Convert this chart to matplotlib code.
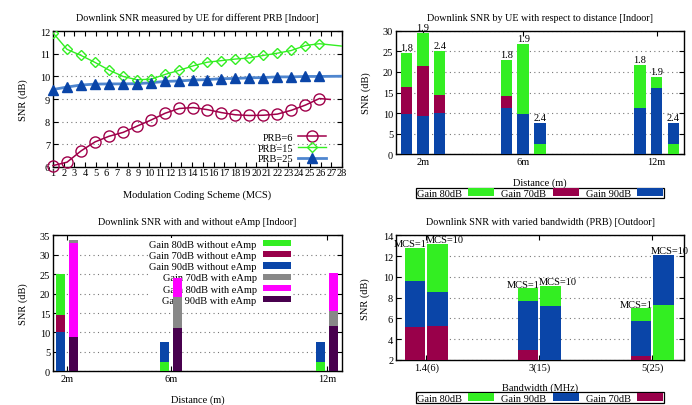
import matplotlib
matplotlib.use('Agg')
import matplotlib.pyplot as plt
from matplotlib.lines import Line2D

plt.rcParams['font.family'] = ['Liberation Serif', 'DejaVu Serif']
plt.rcParams['font.size'] = 7.5
plt.rcParams['axes.titlesize'] = 7.3

# colours (gnuplot-ish)
GREEN = '#33ee22'
CRIMSON = '#99004a'
BLUE = '#0a45a8'
GRAY = '#888888'
MAGENTA = '#ff00ff'
PURPLE = '#48004e'

# --- top left: SNR vs MCS for 3 PRB settings ---
mcs_x = [1.0, 2.31, 3.62, 4.93, 6.24, 7.55, 8.86, 10.17, 11.48, 12.79,
         14.1, 15.41, 16.72, 18.03, 19.34, 20.65, 21.96, 23.27, 24.58, 25.89]
prb6 = [6.05, 6.2, 6.7, 7.1, 7.35, 7.52, 7.8, 8.07, 8.37, 8.58,
        8.62, 8.53, 8.4, 8.3, 8.27, 8.28, 8.33, 8.5, 8.73, 9.02]
prb15 = [11.93, 11.2, 10.93, 10.62, 10.28, 10.0, 9.85, 9.88, 10.09, 10.27,
         10.47, 10.63, 10.7, 10.77, 10.82, 10.93, 11.03, 11.15, 11.37, 11.45]
prb25 = [9.42, 9.53, 9.62, 9.66, 9.67, 9.67, 9.68, 9.72, 9.78, 9.8,
         9.84, 9.86, 9.9, 9.91, 9.94, 9.95, 9.98, 9.98, 10.0, 10.0]
# last (unmarked) points of each line
prb6_end = (26.9, 8.98)
prb15_end = (28.3, 11.33)
prb25_end = (28.3, 10.01)

# --- top right: SNR vs distance ---
dist_labels = ['2m', '6m', '12m']
tr_x = [0, 1, 2, 6, 7, 8, 14, 15, 16]
tr_g80 = [24.6, 29.5, 25.1, 23.0, 26.8, 2.5, 21.7, 18.7, 2.4]
tr_g70 = [16.4, 21.4, 14.5, 14.2, 0, 0, 0, 0, 0]
tr_g90 = [9.8, 9.4, 10.1, 11.2, 9.9, 7.6, 11.3, 16.1, 7.6]
tr_bar_text = ['1.8', '1.9', '2.4', '1.8', '1.9', '2.4', '1.8', '1.9', '2.4']

# --- bottom left: with / without eAmp ---
bl_x_without = [0, 8, 20]
bl_x_with = [1, 9, 21]
wo_g80 = [25.0, 2.5, 2.4]
wo_g70 = [14.5, 0, 0]
wo_g90 = [10.0, 7.6, 7.6]
w_g70 = [33.8, 19.0, 15.5]
w_g80 = [32.9, 24.1, 25.3]
w_g90 = [8.7, 11.2, 11.7]

# --- bottom right: bandwidth ---
bw_labels = ['1.4(6)', '3(15)', '5(25)']
br_x = [0, 1, 5, 6, 10, 11]
br_g80 = [12.8, 13.2, 8.9, 9.15, 7.0, 7.3]
br_g90 = [9.6, 8.5, 7.65, 7.2, 5.8, 12.15]
br_g70 = [5.15, 5.3, 3.0, 0, 2.4, 0]
br_bar_text = ['MCS=1', 'MCS=10'] * 3

W, H = 692, 406
fig = plt.figure(figsize=(W / 100, H / 100), dpi=100)


def add_ax(x0, x1, ytop, ybot):
    return fig.add_axes([x0 / W, 1 - ybot / H, (x1 - x0) / W, (ybot - ytop) / H])


def gnu_style(ax):
    ax.tick_params(direction='in', length=3.5, width=0.8, top=True, right=True, pad=2)
    for s in ax.spines.values():
        s.set_linewidth(1.0)
    ax.yaxis.grid(True, linestyle=(0, (1, 3)), color='#777777', linewidth=0.8)
    ax.set_axisbelow(True)


def overlap_bars(ax, x, vals, color, label, width):
    # bars drawn from 0, taller bars kept behind shorter ones
    bars = ax.bar(x, vals, width=width, color=color, label=label, linewidth=0)
    for p, v in zip(bars, vals):
        p.set_zorder(3 - v / 100)
    return bars


def right_align_legend(leg):
    for col in leg._legend_handle_box.get_children():
        col.align = 'right'


def bottom_legend(ax, y):
    leg = ax.legend(loc='upper center', bbox_to_anchor=(0.5, y), ncol=3, markerfirst=False,
                    fancybox=False, edgecolor='black', framealpha=1, handlelength=2.5,
                    handleheight=0.8, columnspacing=0.7, borderpad=0.05, borderaxespad=0,
                    handletextpad=0.6, fontsize=7.5)
    leg.get_frame().set_linewidth(0.9)
    return leg


# top left
ax1 = add_ax(53, 342, 32.3, 167.7)
gnu_style(ax1)
every = list(range(len(mcs_x)))
ax1.plot(mcs_x + [prb6_end[0]], prb6 + [prb6_end[1]], color='#a0004a', lw=1.1,
         marker='o', ms=8, mfc='none', mew=1.0, markevery=every,
         label='PRB=6', clip_on=False, zorder=4)
ax1.plot(mcs_x + [prb15_end[0]], prb15 + [prb15_end[1]], color='#33ee22', lw=1.0,
         marker='D', ms=5.5, mfc='none', mew=1.0, markevery=every,
         label='PRB=15', zorder=4)
ax1.plot(mcs_x + [prb25_end[0]], prb25 + [prb25_end[1]], color='#4f86cf', lw=2.0,
         label='PRB=25', zorder=3)
ax1.plot(mcs_x, prb25, ls='none', marker='^', ms=6.5, color=BLUE, zorder=4, clip_on=False)
ax1.set_xlim(1, 28)
ax1.set_ylim(6, 12)
ax1.set_xticks(range(1, 29))
ax1.set_yticks(range(6, 13))
ax1.tick_params(axis='x', pad=1)
ax1.set_title('Downlink SNR measured by UE for different PRB [Indoor]', pad=8)
ax1.set_xlabel('Modulation Coding Scheme (MCS)')
ax1.set_ylabel('SNR (dB)')
ax1.xaxis.set_label_coords(0.5, -0.17)
ax1.yaxis.set_label_coords(-0.087, 0.5)
h, lab = ax1.get_legend_handles_labels()
h[2] = Line2D([], [], color='#4f86cf', lw=2.0, marker='^', ms=6.5, mfc=BLUE, mec=BLUE)
leg = ax1.legend(h, lab, loc='lower right', bbox_to_anchor=(0.97, -0.03), frameon=False,
                 markerfirst=False, handlelength=2.7, labelspacing=0.15, borderpad=0.2,
                 handletextpad=0.4, fontsize=7.5)
right_align_legend(leg)

# top right
ax2 = add_ax(396, 684, 31.7, 155.3)
gnu_style(ax2)
bw = 0.68
overlap_bars(ax2, tr_x, tr_g80, GREEN, 'Gain 80dB', bw)
overlap_bars(ax2, tr_x, tr_g70, CRIMSON, 'Gain 70dB', bw)
overlap_bars(ax2, tr_x, tr_g90, BLUE, 'Gain 90dB', bw)
for xi, top, txt in zip(tr_x, [max(a, b, c) for a, b, c in zip(tr_g80, tr_g70, tr_g90)], tr_bar_text):
    ax2.text(xi, top + 0.2, txt, ha='center', va='bottom', fontsize=7.5, zorder=6)
ax2.set_xlim(-0.62, 16.64)
ax2.set_ylim(0, 30)
ax2.set_xticks([1, 7, 15])
ax2.set_xticklabels(dist_labels)
ax2.set_yticks(range(0, 31, 5))
ax2.set_title('Downlink SNR by UE with respect to distance [Indoor]', pad=8)
ax2.set_xlabel('Distance (m)')
ax2.set_ylabel('SNR (dB)')
ax2.xaxis.set_label_coords(0.5, -0.19)
ax2.yaxis.set_label_coords(-0.087, 0.5)
bottom_legend(ax2, -0.27)

# bottom left
ax3 = add_ax(53, 342, 236.3, 372.3)
gnu_style(ax3)
bw = 0.67
overlap_bars(ax3, bl_x_without, wo_g80, GREEN, 'Gain 80dB without eAmp', bw)
overlap_bars(ax3, bl_x_without, wo_g70, CRIMSON, 'Gain 70dB without eAmp', bw)
overlap_bars(ax3, bl_x_without, wo_g90, BLUE, 'Gain 90dB without eAmp', bw)
overlap_bars(ax3, bl_x_with, w_g70, GRAY, 'Gain 70dB with eAmp', bw)
overlap_bars(ax3, bl_x_with, w_g80, MAGENTA, 'Gain 80dB with eAmp', bw)
overlap_bars(ax3, bl_x_with, w_g90, PURPLE, 'Gain 90dB with eAmp', bw)
ax3.set_xlim(-0.59, 21.64)
ax3.set_ylim(0, 35)
ax3.set_xticks([0.5, 8.5, 20.5])
ax3.set_xticklabels(dist_labels)
ax3.set_yticks(range(0, 36, 5))
ax3.set_title('Downlink SNR with and without eAmp [Indoor]', pad=8)
ax3.set_xlabel('Distance (m)')
ax3.set_ylabel('SNR (dB)')
ax3.xaxis.set_label_coords(0.5, -0.17)
ax3.yaxis.set_label_coords(-0.088, 0.5)
leg = ax3.legend(loc='upper right', bbox_to_anchor=(0.845, 1.015), markerfirst=False, frameon=True,
                 fancybox=False, edgecolor='none', facecolor='white', framealpha=1,
                 handlelength=2.7, handleheight=0.55, labelspacing=0.22, borderpad=0.1,
                 handletextpad=0.6, fontsize=7.5)
leg.set_zorder(2)
right_align_legend(leg)

# bottom right
ax4 = add_ax(396, 684, 236.3, 361.0)
gnu_style(ax4)
bw = 0.91
overlap_bars(ax4, br_x, br_g80, GREEN, 'Gain 80dB', bw)
overlap_bars(ax4, br_x, br_g90, BLUE, 'Gain 90dB', bw)
overlap_bars(ax4, br_x, br_g70, CRIMSON, 'Gain 70dB', bw)
for i, (xi, txt) in enumerate(zip(br_x, br_bar_text)):
    top = max(br_g80[i], br_g90[i], br_g70[i])
    dx = -0.2 if i % 2 == 0 else 0.3
    ax4.text(xi + dx, top - 0.05, txt, ha='center', va='bottom', fontsize=7.5, zorder=6)
ax4.set_xlim(-0.85, 11.91)
ax4.set_ylim(2, 14)
ax4.set_xticks([0.5, 5.5, 10.5])
ax4.set_xticklabels(bw_labels)
ax4.set_yticks(range(2, 15, 2))
ax4.set_title('Downlink SNR with varied bandwidth (PRB) [Outdoor]', pad=8)
ax4.set_xlabel('Bandwidth (MHz)')
ax4.set_ylabel('SNR (dB)')
ax4.xaxis.set_label_coords(0.5, -0.18)
ax4.yaxis.set_label_coords(-0.09, 0.5)
bottom_legend(ax4, -0.26)

fig.savefig('out.png', dpi=100)
